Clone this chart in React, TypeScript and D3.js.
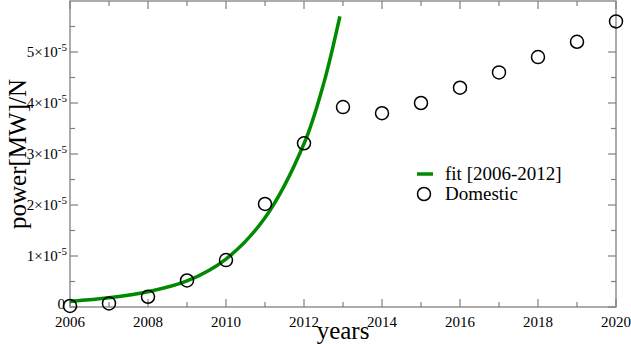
import React, { useEffect, useRef } from 'react'
import * as d3 from 'd3'

// Domestic data points (power in MW per N)
const years = [2006, 2007, 2008, 2009, 2010, 2011, 2012, 2013, 2014, 2015, 2016, 2017, 2018, 2019, 2020]
const domestic = [0.02e-5, 0.07e-5, 0.2e-5, 0.52e-5, 0.92e-5, 2.02e-5, 3.21e-5, 3.92e-5, 3.8e-5, 4.0e-5, 4.3e-5, 4.6e-5, 4.9e-5, 5.2e-5, 5.6e-5]

// fit [2006-2012] curve
const fitYears = [2006, 2007, 2008, 2009, 2010, 2011, 2012, 2012.5, 2012.92]
const fitValues = [0.11e-5, 0.18e-5, 0.3e-5, 0.51e-5, 0.94e-5, 1.75e-5, 3.2e-5, 4.37e-5, 5.7e-5]

const yTickMantissa = [1, 2, 3, 4, 5]
const xTickLabels = [2006, 2008, 2010, 2012, 2014, 2016, 2018, 2020]

const W = 631
const H = 344
const FONT = "'Liberation Serif', 'Times New Roman', serif"

export default function App() {
  const ref = useRef<SVGSVGElement | null>(null)

  useEffect(() => {
    const svg = d3.select(ref.current)
    svg.selectAll('*').remove()

    const left = 70, right = 616, top = 1, bottom = 307
    const x = d3.scaleLinear().domain([2006, 2020]).range([left, right])
    const y = d3.scaleLinear().domain([0, 6e-5]).range([bottom, top])
    const axisColor = '#808080'

    const g = svg.append('g')

    // frame
    g.append('rect')
      .attr('x', left).attr('y', top)
      .attr('width', right - left).attr('height', bottom - top)
      .attr('fill', 'none').attr('stroke', axisColor).attr('stroke-width', 1.3)

    // ticks on all four sides, pointing inward
    const xTicks = d3.range(2006, 2021, 1)
    xTicks.forEach((t) => {
      const len = t % 2 === 0 ? 8 : 5
      g.append('line').attr('x1', x(t)).attr('x2', x(t)).attr('y1', bottom).attr('y2', bottom - len)
        .attr('stroke', axisColor).attr('stroke-width', 1.2)
      g.append('line').attr('x1', x(t)).attr('x2', x(t)).attr('y1', top).attr('y2', top + len)
        .attr('stroke', axisColor).attr('stroke-width', 1.2)
    })
    const yTicks = d3.range(0, 12, 1).map((i) => i * 0.5e-5)
    yTicks.forEach((t, i) => {
      const len = i % 2 === 0 ? 8 : 5
      g.append('line').attr('x1', left).attr('x2', left + len).attr('y1', y(t)).attr('y2', y(t))
        .attr('stroke', axisColor).attr('stroke-width', 1.2)
      g.append('line').attr('x1', right).attr('x2', right - len).attr('y1', y(t)).attr('y2', y(t))
        .attr('stroke', axisColor).attr('stroke-width', 1.2)
    })

    // x tick labels
    g.selectAll('.xlabel').data(xTickLabels).join('text')
      .attr('class', 'xlabel')
      .attr('x', (d) => x(d))
      .attr('y', bottom + 20)
      .attr('text-anchor', 'middle')
      .attr('font-family', FONT)
      .attr('font-size', 15)
      .text((d) => d)

    // y tick labels
    g.append('text')
      .attr('x', left - 5).attr('y', y(0) + 2)
      .attr('text-anchor', 'end')
      .attr('font-family', FONT).attr('font-size', 15)
      .text('0')

    yTickMantissa.forEach((m) => {
      const t = g.append('text')
        .attr('x', left - 3).attr('y', y(m * 1e-5) + 5)
        .attr('text-anchor', 'end')
        .attr('font-family', FONT).attr('font-size', 15)
      t.append('tspan').text(`${m}×10`)
      t.append('tspan').attr('dy', -6).attr('font-size', 11).text('-5')
    })

    // axis titles
    g.append('text')
      .attr('x', (left + right) / 2).attr('y', 339)
      .attr('text-anchor', 'middle')
      .attr('font-family', FONT).attr('font-size', 25)
      .text('years')

    g.append('text')
      .attr('transform', `translate(26, ${(top + bottom) / 2}) rotate(-90)`)
      .attr('text-anchor', 'middle')
      .attr('font-family', FONT).attr('font-size', 25)
      .text('power[MW]/N')

    // fit curve
    const line = d3.line<number>()
      .x((d, i) => x(fitYears[i]))
      .y((d) => y(d))
      .curve(d3.curveCatmullRom)

    g.append('path')
      .attr('d', line(fitValues))
      .attr('fill', 'none')
      .attr('stroke', '#008a00')
      .attr('stroke-width', 3.5)

    // domestic points
    g.selectAll('.pt').data(domestic).join('circle')
      .attr('class', 'pt')
      .attr('cx', (d, i) => x(years[i]))
      .attr('cy', (d) => y(d))
      .attr('r', 6.5)
      .attr('fill', 'none')
      .attr('stroke', 'black')
      .attr('stroke-width', 1.5)

    // legend
    const lg = g.append('g')
    lg.append('line').attr('x1', 417).attr('x2', 433).attr('y1', 174).attr('y2', 174)
      .attr('stroke', '#008a00').attr('stroke-width', 3.5)
    lg.append('text').attr('x', 445).attr('y', 180)
      .attr('font-family', FONT).attr('font-size', 19)
      .text('fit [2006-2012]')
    lg.append('circle').attr('cx', 424).attr('cy', 194).attr('r', 6.5)
      .attr('fill', 'none').attr('stroke', 'black').attr('stroke-width', 1.5)
    lg.append('text').attr('x', 445).attr('y', 200)
      .attr('font-family', FONT).attr('font-size', 19)
      .text('Domestic')
  }, [])

  return (
    <svg ref={ref} width={W} height={H}
      style={{ position: 'absolute', left: 0, top: 0, background: 'white' }} />
  )
}
